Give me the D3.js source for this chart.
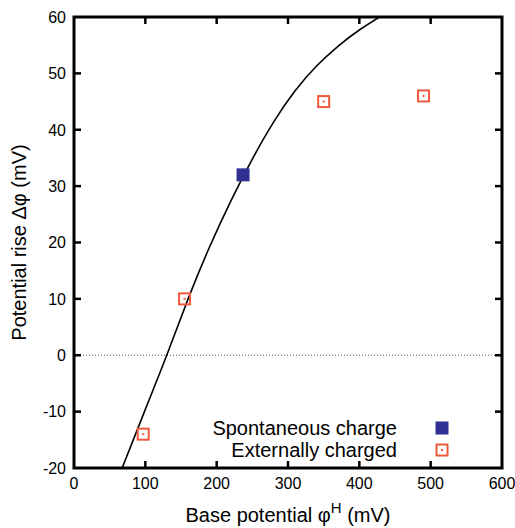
<!DOCTYPE html>
<html>
<head>
<meta charset="utf-8">
<script src="https://cdn.jsdelivr.net/npm/d3@7"></script>
<style>
	body { margin: 0; background: #fff; }
	svg { display: block; font-family: "Liberation Sans", Arial, sans-serif; }
</style>
</head>
<body>
<div id="chart"></div>
<script>
// data
var xTicks = [0, 100, 200, 300, 400, 500, 600];
var yTicks = [-20, -10, 0, 10, 20, 30, 40, 50, 60];

var spontX = [237];
var spontY = [32];

var extX = [97, 155, 350, 490];
var extY = [-14, 10, 45, 46];

// fitted curve
var fitX = [60, 100, 130, 160, 190, 220, 250, 280, 310, 340, 370, 400, 440];
var fitY = [-22.4, -9.6, 0, 10.0, 19.2, 27.4, 34.8, 41.4, 46.9, 51.3, 54.8, 57.7, 60.9];

var width = 515,
	height = 528,
	margin = { left: 74, right: 13, top: 17, bottom: 60 };

var blue = "#2e3192",
	orange = "#f05a3c";

var svg = d3.select("#chart").append("svg")
	.attr("width", width)
	.attr("height", height);

var x = d3.scaleLinear().domain([0, 600]).range([margin.left, width - margin.right]);
var y = d3.scaleLinear().domain([-20, 60]).range([height - margin.bottom, margin.top]);

var plot = svg.append("g");

// clip so the curve stops at the frame
svg.append("clipPath").attr("id", "clip")
	.append("rect")
	.attr("x", x(0)).attr("y", y(60))
	.attr("width", x(600) - x(0)).attr("height", y(-20) - y(60));

// zero line
plot.append("line")
	.attr("x1", x(0)).attr("x2", x(600))
	.attr("y1", y(0)).attr("y2", y(0))
	.attr("stroke", "#555")
	.attr("stroke-width", 1)
	.attr("stroke-dasharray", "1,2");

// fit curve
var line = d3.line()
	.x(function(d) { return x(d[0]); })
	.y(function(d) { return y(d[1]); })
	.curve(d3.curveNatural);

plot.append("path")
	.datum(d3.zip(fitX, fitY))
	.attr("clip-path", "url(#clip)")
	.attr("d", line)
	.attr("fill", "none")
	.attr("stroke", "#000")
	.attr("stroke-width", 1.6);

var sz = 13;

function openSquare(g, cx, cy) {
	g.append("rect")
		.attr("x", cx - sz / 2 + 1).attr("y", cy - sz / 2 + 1)
		.attr("width", sz - 2).attr("height", sz - 2)
		.attr("fill", "none")
		.attr("stroke", orange)
		.attr("stroke-width", 2);
	g.append("rect")
		.attr("x", cx - 1).attr("y", cy - 1)
		.attr("width", 2).attr("height", 2)
		.attr("fill", orange);
}

d3.zip(extX, extY).forEach(function(d) {
	openSquare(plot, x(d[0]), y(d[1]));
});

plot.selectAll(".spont")
	.data(d3.zip(spontX, spontY))
	.enter().append("rect")
	.attr("class", "spont")
	.attr("x", function(d) { return x(d[0]) - sz / 2; })
	.attr("y", function(d) { return y(d[1]) - sz / 2; })
	.attr("width", sz).attr("height", sz)
	.attr("fill", blue);

// frame and ticks
var axes = svg.append("g").attr("stroke", "#000");
var tl = 7;

xTicks.forEach(function(t) {
	if (t === 0 || t === 600) return;
	axes.append("line").attr("x1", x(t)).attr("x2", x(t))
		.attr("y1", y(-20)).attr("y2", y(-20) - tl).attr("stroke-width", 2.5);
	axes.append("line").attr("x1", x(t)).attr("x2", x(t))
		.attr("y1", y(60)).attr("y2", y(60) + tl).attr("stroke-width", 2.5);
});
yTicks.forEach(function(t) {
	if (t === -20 || t === 60) return;
	axes.append("line").attr("x1", x(0)).attr("x2", x(0) + tl)
		.attr("y1", y(t)).attr("y2", y(t)).attr("stroke-width", 2.5);
	axes.append("line").attr("x1", x(600)).attr("x2", x(600) - tl)
		.attr("y1", y(t)).attr("y2", y(t)).attr("stroke-width", 2.5);
});

axes.append("rect")
	.attr("x", x(0)).attr("y", y(60))
	.attr("width", x(600) - x(0)).attr("height", y(-20) - y(60))
	.attr("fill", "none")
	.attr("stroke-width", 3);

// tick labels
svg.append("g").selectAll("text")
	.data(xTicks).enter().append("text")
	.attr("x", function(d) { return x(d); })
	.attr("y", y(-20) + 21)
	.attr("text-anchor", "middle")
	.attr("font-size", 16)
	.text(function(d) { return d; });

svg.append("g").selectAll("text")
	.data(yTicks).enter().append("text")
	.attr("x", x(0) - 8)
	.attr("y", function(d) { return y(d); })
	.attr("dy", "0.36em")
	.attr("text-anchor", "end")
	.attr("font-size", 16)
	.text(function(d) { return d; });

// axis titles
var xt = svg.append("text")
	.attr("x", (x(0) + x(600)) / 2)
	.attr("y", height - 6)
	.attr("text-anchor", "middle")
	.attr("font-size", 20);
xt.append("tspan").text("Base potential φ");
xt.append("tspan").attr("dy", -9).attr("font-size", 15).text("H");
xt.append("tspan").attr("dy", 9).text(" (mV)");

svg.append("text")
	.attr("transform", "translate(26," + ((y(-20) + y(60)) / 2) + ") rotate(-90)")
	.attr("text-anchor", "middle")
	.attr("font-size", 20)
	.text("Potential rise Δφ (mV)");

// legend
var legend = svg.append("g");
var legX = 397, markX = 442;

legend.append("text")
	.attr("x", legX).attr("y", 428).attr("dy", "0.36em")
	.attr("text-anchor", "end").attr("font-size", 20)
	.text("Spontaneous charge");
legend.append("rect")
	.attr("x", markX - sz / 2).attr("y", 428 - sz / 2)
	.attr("width", sz).attr("height", sz)
	.attr("fill", blue);

legend.append("text")
	.attr("x", legX).attr("y", 450).attr("dy", "0.36em")
	.attr("text-anchor", "end").attr("font-size", 20)
	.text("Externally charged");
openSquare(legend, markX, 450);
</script>
</body>
</html>
